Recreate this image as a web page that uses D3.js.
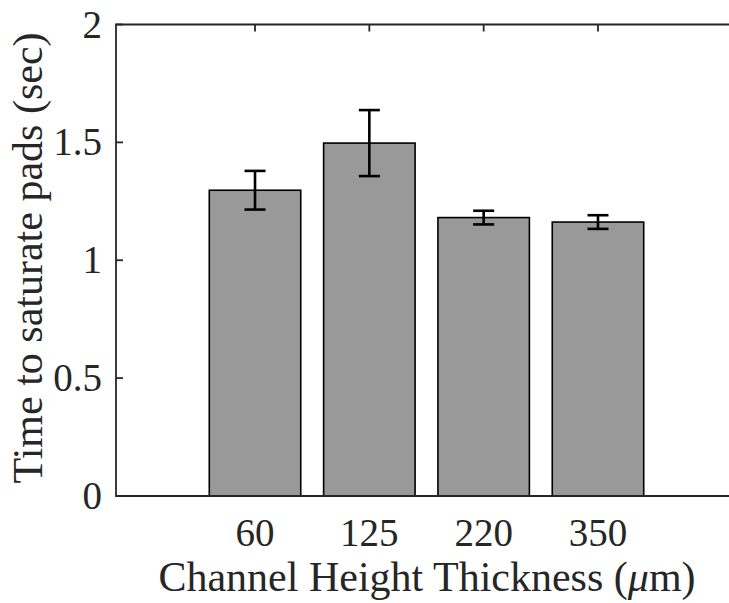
<!DOCTYPE html>
<html>
<head>
<meta charset="utf-8">
<script src="https://cdn.jsdelivr.net/npm/d3@7/dist/d3.min.js"></script>
<style>
	body { margin: 0; background: #fff; }
	svg { display: block; }
</style>
</head>
<body>
<svg id="viz"></svg>
<script>

	// the data
	var categories = ["60", "125", "220", "350"];
	var means = [1.297, 1.497, 1.181, 1.162];
	var errors = [0.082, 0.140, 0.029, 0.029];
	var yTicks = [0, 0.5, 1, 1.5, 2];
	var yTickLabels = ["0", "0.5", "1", "1.5", "2"];



	// set up the svg
	var w = 729;
	var h = 603;
	var viz = d3.select("#viz").attr("width", w).attr("height", h);

	var pLeft = 116, pRight = 737, pTop = 24.5, pBottom = 496;
	var font = "'Liberation Serif', 'Times New Roman', Times, 'DejaVu Serif', serif";

	var x = d3.scalePoint()
		.domain(categories)
		.range([pLeft, pRight])
		.padding(1.216);

	var y = d3.scaleLinear()
		.domain([0, 2])
		.range([pBottom, pTop]);

	var barW = x.step() * 0.8;
	var axisColor = "#262626";



	// draw the bars
	viz.selectAll("rect.bar")
		.data(categories)
		.enter()
		.append("rect")
		.attr("class", "bar")
		.attr("x", function(d) { return x(d) - barW / 2; })
		.attr("y", function(d, i) { return y(means[i]); })
		.attr("width", barW)
		.attr("height", function(d, i) { return y(0) - y(means[i]); })
		.attr("fill", "#999999")
		.attr("stroke", "#000")
		.attr("stroke-width", 1.6);



	// draw the error bars
	var eb = viz.selectAll("g.err")
		.data(categories)
		.enter()
		.append("g")
		.attr("class", "err")
		.attr("stroke", "#000")
		.attr("stroke-width", 2.6);

	eb.append("line")
		.attr("x1", function(d) { return x(d); })
		.attr("x2", function(d) { return x(d); })
		.attr("y1", function(d, i) { return y(means[i] - errors[i]); })
		.attr("y2", function(d, i) { return y(means[i] + errors[i]); });

	eb.append("line")
		.attr("x1", function(d) { return x(d) - 10.5; })
		.attr("x2", function(d) { return x(d) + 10.5; })
		.attr("y1", function(d, i) { return y(means[i] + errors[i]); })
		.attr("y2", function(d, i) { return y(means[i] + errors[i]); });

	eb.append("line")
		.attr("x1", function(d) { return x(d) - 10.5; })
		.attr("x2", function(d) { return x(d) + 10.5; })
		.attr("y1", function(d, i) { return y(means[i] - errors[i]); })
		.attr("y2", function(d, i) { return y(means[i] - errors[i]); });



	// draw the axes box (right side is cut off)
	viz.append("path")
		.attr("d", "M" + pRight + "," + pTop + "H" + pLeft + "V" + pBottom + "H" + pRight)
		.attr("fill", "none")
		.attr("stroke", axisColor)
		.attr("stroke-width", 1.8);

	// y ticks, pointing inward
	viz.selectAll("line.ytick")
		.data(yTicks)
		.enter()
		.append("line")
		.attr("class", "ytick")
		.attr("x1", pLeft)
		.attr("x2", pLeft + 7)
		.attr("y1", function(d) { return y(d); })
		.attr("y2", function(d) { return y(d); })
		.attr("stroke", axisColor)
		.attr("stroke-width", 1.8);

	// top ticks, pointing down
	viz.selectAll("line.xtick")
		.data(categories)
		.enter()
		.append("line")
		.attr("class", "xtick")
		.attr("x1", function(d) { return x(d); })
		.attr("x2", function(d) { return x(d); })
		.attr("y1", pTop)
		.attr("y2", pTop + 7)
		.attr("stroke", axisColor)
		.attr("stroke-width", 1.8);

	// y tick labels
	viz.selectAll("text.ylab")
		.data(yTicks)
		.enter()
		.append("text")
		.attr("class", "ylab")
		.attr("x", pLeft - 14)
		.attr("y", function(d) { return y(d) + 13; })
		.attr("text-anchor", "end")
		.attr("font-family", font)
		.attr("font-size", 39)
		.attr("fill", axisColor)
		.text(function(d, i) { return yTickLabels[i]; });

	// x tick labels
	viz.selectAll("text.xlab")
		.data(categories)
		.enter()
		.append("text")
		.attr("class", "xlab")
		.attr("x", function(d) { return x(d); })
		.attr("y", 546)
		.attr("text-anchor", "middle")
		.attr("font-family", font)
		.attr("font-size", 39)
		.attr("fill", axisColor)
		.text(function(d) { return d; });



	// axis titles
	var xt = viz.append("text")
		.attr("x", 427)
		.attr("y", 591)
		.attr("text-anchor", "middle")
		.attr("font-family", font)
		.attr("font-size", 42)
		.attr("fill", axisColor);
	xt.append("tspan").text("Channel Height Thickness (");
	xt.append("tspan").attr("font-style", "italic").text("\u03bc");
	xt.append("tspan").text("m)");

	viz.append("text")
		.attr("transform", "translate(42,258) rotate(-90)")
		.attr("text-anchor", "middle")
		.attr("font-family", font)
		.attr("font-size", 42)
		.attr("fill", axisColor)
		.text("Time to saturate pads (sec)");

</script>
</body>
</html>
